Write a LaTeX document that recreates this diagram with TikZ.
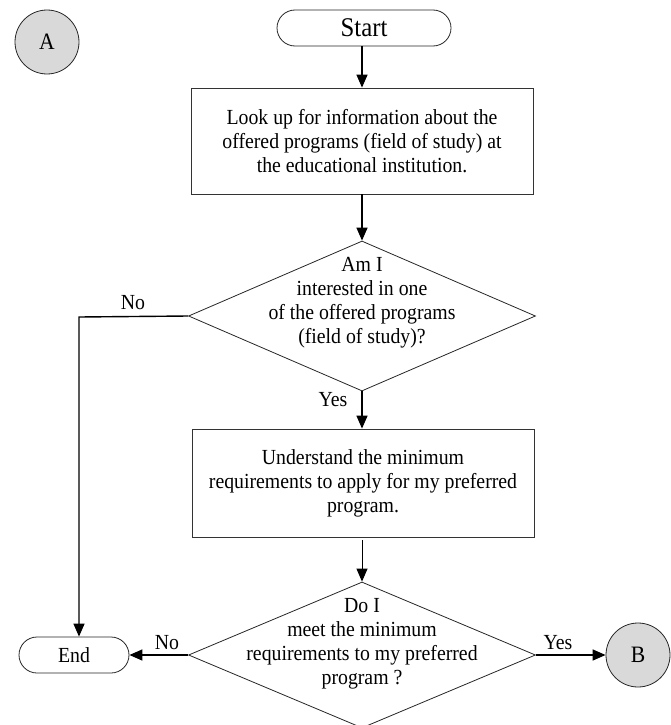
\documentclass[tikz,border=0pt]{standalone}
\usepackage{fontspec}
\setmainfont{Liberation Serif}[FakeStretch=0.92]
\usetikzlibrary{shapes.geometric,arrows.meta}
\begin{document}
\begin{tikzpicture}[x=1pt,y=-1pt,
  every node/.style={font=\fontsize{21.5}{24}\selectfont},
  boxnode/.style={draw=black!80,line width=0.8pt,rectangle,align=center,inner sep=0pt,minimum width=342pt,minimum height=106pt},
  termnode/.style={draw=black!85,line width=0.8pt,rectangle,rounded corners=18pt,inner sep=0pt,minimum height=36pt},
  dianode/.style={draw=black!85,line width=0.8pt,diamond,inner sep=0pt,minimum width=347pt,minimum height=150pt},
  txtnode/.style={align=center,inner sep=0pt},
  circnode/.style={draw=black!85,line width=0.8pt,fill=black!15,ellipse,inner sep=0pt,minimum width=64pt,minimum height=64pt,font=\fontsize{23.5}{26}\selectfont},
  lbl/.style={inner sep=0pt},
  arr/.style={line width=1.4pt,-{Triangle[length=13pt,width=11pt]}}]
\useasboundingbox (0,0) rectangle (670,725);

\node[circnode] (A) at (47,42) {A};
\node[termnode,minimum width=174pt,font=\fontsize{27}{30}\selectfont] (start) at (364,28) {Start};
\node[boxnode] (b1) at (362,141) {Look up for information about the\\offered programs (field of study) at\\the educational institution.};
\node[dianode] (d1) at (362,316) {};
\node[txtnode] (d1t) at (362,303) {Am I\\interested in one\\of the offered programs\\(field of study)?};
\node[boxnode,minimum height=108pt] (b2) at (363,483) {Understand the minimum\\requirements to apply for my preferred\\program.};
\node[dianode,minimum height=146pt] (d2) at (362,655) {};
\node[txtnode] (d2t) at (362,644) {Do I\\meet the minimum\\requirements to my preferred\\program ?};
\node[termnode,minimum width=110pt] (end) at (74,655) {End};
\node[circnode] (B) at (638,655) {B};

\coordinate (nocorner) at (79,317);
\draw[arr] (start.south -| b1.north) -- (b1.north);
\draw[arr] (b1) -- (d1);
\draw[arr] (d1) -- (b2.north -| d1.south);
\draw[arr,line width=1pt] (b2.south -| d2.north) ++(0,3) -- (d2.north);
\draw[arr] (d1.west) -- (nocorner) -- (nocorner |- end.north);
\draw[arr] (d2.west) -- (end.east);
\draw[arr] (d2.east) -- (B.west);

\node[lbl] (no1) at (133,303) {No};
\node[lbl] (yes1) at (333,400) {Yes};
\node[lbl] (no2) at (167,643) {No};
\node[lbl] (yes2) at (558,643) {Yes};
\end{tikzpicture}
\end{document}
